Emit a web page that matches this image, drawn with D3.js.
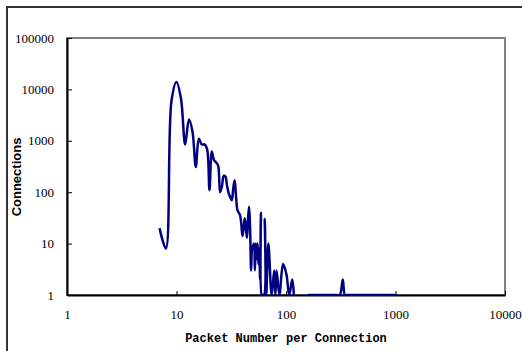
<!DOCTYPE html>
<html>
<head>
<meta charset="utf-8">
<script src="https://cdn.jsdelivr.net/npm/d3@7"></script>
<style>
  body { margin: 0; background: #fff; }
  svg { display: block; }
</style>
</head>
<body>
<script>
// packet count per connection (x) and number of connections (y), null = gap
const packets = [7, 8, 9, 10, 11, 12, 13, 14, 15, 16, 17, 18, 19, 20,
  21, 22, 23, 24, 25, 26, 27, 28, 29, 30, 31, 32, 33, 34, 35, 36, 37, 38, 39, 40,
  41, 42, 43, 44, 45, 46, 47, 48, 49, 50, 51, 52, 53, 54, 55, 56, 57, 58, 59, 60,
  61, 63, 64, 66, 69, 74, 78, 80, 82, 87, 94, 101, 107, 114, 118,
  140, 158, 200, 250, 290, 310, 330, 345, 360, 500, 700, 1000];
const connections = [20, 8, 6000, 14000, 6500, 850, 2600, 1500, 310, 1100, 850, 850, 700, 110,
  620, 420, 380, 330, 100, 130, 210, 200, 130, 95, 80, 70, 120, 170, 80, 45, 40, 36, 25, 14,
  20, 31, 20, 13, 30, 52, 20, 3, 8, 9, 10, 3, 10, 5, 10, 4, 8, 2, 40, 1,
  1, 1, 30, 1, 10, 1, 3, 1, 3, 1, 4, 2.5, 1, 2, 1,
  null, 1, 1, 1, 1, 1, 2, 1, 1, 1, 1, 1];

const xTicks = [1, 10, 100, 1000, 10000];
const yTicks = [1, 10, 100, 1000, 10000, 100000];

const width = 522, height = 351;
const plot = {left: 67, top: 38, right: 505, bottom: 295};

const svg = d3.select('body').append('svg')
  .attr('width', width)
  .attr('height', height);

// outer chart border (only top and left visible)
svg.append('path')
  .attr('d', `M7,${height} V7 H${width}`)
  .attr('fill', 'none')
  .attr('stroke', '#333')
  .attr('stroke-width', 2);

const x = d3.scaleLog().domain([1, 10000]).range([plot.left, plot.right]);
const y = d3.scaleLog().domain([1, 100000]).range([plot.bottom, plot.top]);

// plot area frame
svg.append('rect')
  .attr('x', plot.left)
  .attr('y', plot.top)
  .attr('width', plot.right - plot.left)
  .attr('height', plot.bottom - plot.top)
  .attr('fill', 'none')
  .attr('stroke', '#808080')
  .attr('stroke-width', 2);

svg.append('clipPath').attr('id', 'clip')
  .append('rect')
  .attr('x', plot.left)
  .attr('y', plot.top - 2)
  .attr('width', plot.right - plot.left)
  .attr('height', plot.bottom - plot.top + 3);

const data = packets.map((p, i) => ({p: p, c: connections[i]}));

const line = d3.line()
  .defined(d => d.c !== null)
  .x(d => x(d.p))
  .y(d => y(d.c))
  .curve(d3.curveCatmullRom.alpha(0.5));

// axes
const xAxis = d3.axisBottom(x)
  .tickValues(xTicks)
  .tickFormat(d3.format('d'))
  .tickSizeInner(-4)
  .tickSizeOuter(0)
  .tickPadding(15);

const gx = svg.append('g')
  .attr('transform', `translate(0,${plot.bottom})`)
  .call(xAxis);

const yAxis = d3.axisLeft(y)
  .tickValues(yTicks)
  .tickFormat(d3.format('d'))
  .tickSizeInner(-5)
  .tickSizeOuter(0)
  .tickPadding(13);

const gy = svg.append('g')
  .attr('transform', `translate(${plot.left},0)`)
  .call(yAxis);

[gx, gy].forEach(g => {
  g.attr('font-family', null).attr('font-size', null);
  g.select('.domain').attr('stroke', '#000').attr('stroke-width', 2);
  g.selectAll('.tick line').attr('stroke', '#000').attr('stroke-width', 1);
  g.selectAll('.tick text')
    .attr('fill', '#000')
    .style('font-family', '"Liberation Serif", "Times New Roman", serif')
    .style('font-size', '13px');
});

// the series
svg.append('path')
  .datum(data)
  .attr('clip-path', 'url(#clip)')
  .attr('fill', 'none')
  .attr('stroke', '#000080')
  .attr('stroke-width', 2.5)
  .attr('stroke-linejoin', 'round')
  .attr('d', line);

// axis titles
svg.append('text')
  .attr('x', (plot.left + plot.right) / 2)
  .attr('y', 342)
  .attr('text-anchor', 'middle')
  .style('font-family', '"Liberation Mono", "DejaVu Sans Mono", monospace')
  .attr('font-weight', 'bold')
  .style('font-size', '12px')
  .text('Packet Number per Connection');

svg.append('text')
  .attr('transform', 'translate(21,177) rotate(-90)')
  .attr('text-anchor', 'middle')
  .style('font-family', '"Liberation Sans Narrow", "Liberation Sans", Arial, sans-serif')
  .attr('font-weight', 'bold')
  .style('font-size', '13px')
  .text('Connections');
</script>
</body>
</html>
